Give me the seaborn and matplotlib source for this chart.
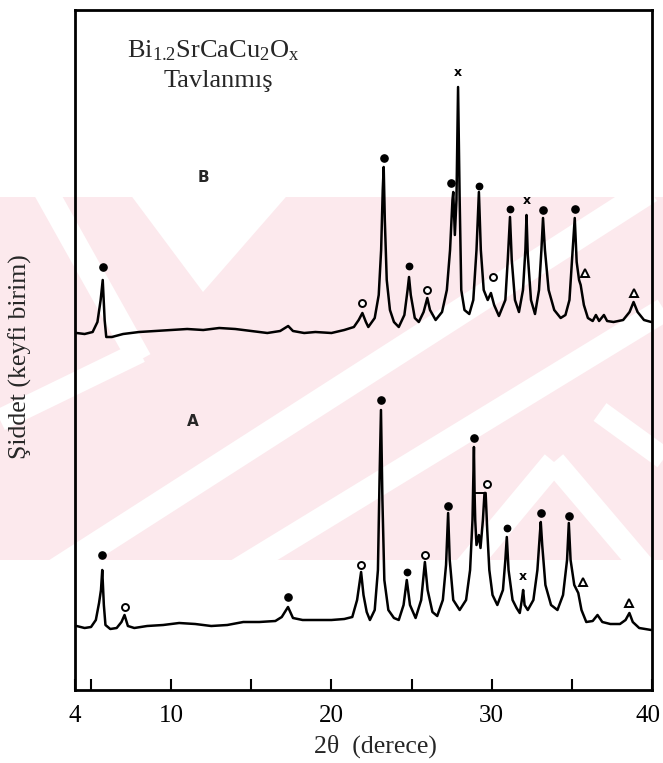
import matplotlib
matplotlib.use("Agg")
import matplotlib.pyplot as plt
import matplotlib.transforms as mtransforms
from matplotlib.patches import Polygon, Rectangle
from matplotlib.lines import Line2D
import pandas as pd
import seaborn as sns

# ---------------------------------------------------------------- data
# Diffraction traces as (2theta [deg], intensity [arb. units]) vertices
trace_B = [
    (4.1, 357), (4.6, 356), (5.1, 358), (5.4, 368), (5.6, 390), (5.73, 410),
    (5.85, 370), (5.95, 353), (6.3, 353), (7.0, 356), (8.0, 358), (9.0, 359),
    (10.0, 360), (11.0, 361), (12.0, 360), (13.0, 362), (14.0, 361), (15.0, 359),
    (16.0, 357), (16.8, 359), (17.3, 364), (17.6, 359), (18.3, 357), (19.0, 358),
    (20.0, 357), (20.8, 360), (21.4, 363), (21.7, 370), (21.93, 377), (22.15, 368),
    (22.3, 363), (22.7, 372), (22.95, 395), (23.1, 440), (23.2, 500), (23.26, 523),
    (23.33, 470), (23.45, 410), (23.65, 380), (23.9, 368), (24.2, 363), (24.55, 375),
    (24.75, 400), (24.84, 413), (24.95, 395), (25.2, 372), (25.45, 368), (25.75, 378),
    (25.98, 392), (26.15, 380), (26.5, 370), (26.9, 378), (27.2, 400), (27.4, 440),
    (27.55, 490), (27.6, 498), (27.7, 455), (27.8, 490), (27.9, 603), (28.0, 490),
    (28.1, 400), (28.3, 380), (28.6, 376), (28.85, 390), (29.05, 440), (29.2, 498),
    (29.32, 440), (29.5, 400), (29.75, 390), (29.95, 397), (30.15, 385), (30.45, 374),
    (30.85, 390), (31.0, 430), (31.14, 473), (31.25, 430), (31.45, 390), (31.7, 378),
    (31.95, 400), (32.1, 440), (32.17, 475), (32.25, 435), (32.45, 390), (32.7, 376),
    (32.95, 400), (33.1, 440), (33.2, 472), (33.32, 440), (33.55, 400), (33.9, 380),
    (34.3, 372), (34.6, 375), (34.85, 390), (35.05, 440), (35.18, 472), (35.3, 428),
    (35.45, 410), (35.55, 405), (35.75, 385), (36.0, 372), (36.3, 369), (36.5, 375),
    (36.7, 369), (37.0, 375), (37.2, 369), (37.6, 368), (38.2, 370), (38.6, 378),
    (38.85, 388), (39.1, 378), (39.5, 370), (39.95, 368),
]

trace_A = [
    (4.1, 64), (4.6, 62), (5.0, 63), (5.3, 70), (5.5, 87), (5.62, 100), (5.7, 120),
    (5.8, 85), (5.9, 65), (6.2, 61), (6.6, 62), (6.9, 68), (7.09, 75), (7.3, 64),
    (7.7, 62), (8.5, 64), (9.5, 65), (10.5, 67), (11.5, 66), (12.5, 64), (13.5, 65),
    (14.5, 68), (15.5, 68), (16.5, 69), (16.9, 73), (17.29, 83), (17.6, 72),
    (18.2, 70), (19.0, 70), (20.0, 70), (20.8, 71), (21.3, 73), (21.6, 90),
    (21.85, 118), (22.0, 95), (22.2, 78), (22.4, 70), (22.7, 80), (22.9, 120),
    (23.0, 210), (23.09, 280), (23.18, 190), (23.3, 110), (23.55, 80), (23.9, 72),
    (24.2, 70), (24.5, 85), (24.7, 110), (24.9, 85), (25.25, 72), (25.6, 90),
    (25.83, 128), (26.0, 100), (26.3, 78), (26.6, 74), (26.95, 90), (27.15, 125),
    (27.28, 177), (27.38, 130), (27.6, 90), (28.0, 80), (28.4, 90), (28.65, 120),
    (28.8, 170), (28.89, 243), (28.93, 197), (28.97, 170), (29.05, 145), (29.2, 155),
    (29.3, 142), (29.45, 170), (29.55, 197), (29.62, 197), (29.72, 160), (29.85, 120),
    (30.05, 95), (30.35, 85), (30.7, 100), (30.85, 130), (30.94, 153), (31.05, 120),
    (31.3, 90), (31.55, 82), (31.75, 77), (31.88, 90), (31.96, 100), (32.05, 85),
    (32.25, 80), (32.6, 90), (32.85, 120), (33.0, 155), (33.06, 168), (33.15, 145),
    (33.35, 105), (33.7, 85), (34.1, 80), (34.45, 95), (34.7, 130), (34.81, 167),
    (34.92, 130), (35.15, 105), (35.4, 97), (35.6, 80), (35.9, 68), (36.3, 69),
    (36.6, 75), (36.9, 68), (37.4, 66), (38.0, 66), (38.35, 70), (38.59, 77),
    (38.8, 68), (39.2, 62), (39.95, 60),
]
# flat top joining the 28.9 and 29.6 reflections of pattern A
bracket_A = [(28.93, 197), (29.55, 197)]

# Phase markers: (2theta, height, symbol)
marks_B = [
    (5.73, 423, "dot"), (21.93, 387, "open"), (23.26, 532, "dot"), (24.84, 424, "star"),
    (25.98, 400, "open"), (27.45, 507, "dot"), (27.9, 617, "x"), (29.2, 504, "star"),
    (30.05, 413, "open"), (31.14, 481, "star"), (32.17, 490, "x"), (33.2, 480, "dot"),
    (35.18, 481, "dot"), (35.8, 417, "tri"), (38.9, 397, "tri"),
]
marks_A = [
    (5.7, 135, "dot"), (7.09, 83, "open"), (17.29, 93, "dot"), (21.85, 125, "open"),
    (23.09, 290, "dot"), (24.7, 118, "star"), (25.83, 135, "open"), (27.28, 184, "dot"),
    (28.89, 252, "dot"), (29.71, 206, "open"), (30.94, 162, "star"), (31.96, 113, "x"),
    (33.06, 177, "dot"), (34.81, 174, "dot"), (35.7, 108, "tri"), (38.59, 87, "tri"),
]

x_ticks = [4, 10, 20, 30, 40]
x_minor = [5, 15, 25, 35]
title_lines = [r"Bi$_{\mathrm{1.2}}$SrCaCu$_{\mathrm{2}}$O$_{\mathrm{x}}$", "Tavlanmış"]
x_label = "2θ  (derece)"
y_label = "Şiddet (keyfi birim)"

# ---------------------------------------------------------------- style
sns.set_theme(style="white")
plt.rcParams["font.family"] = ["Liberation Serif", "DejaVu Serif"]
plt.rcParams["mathtext.fontset"] = "custom"
plt.rcParams["mathtext.rm"] = "Liberation Serif"
plt.rcParams["mathtext.it"] = "Liberation Serif:italic"

W, H = 663, 763
fig = plt.figure(figsize=(W / 100, H / 100), dpi=100)
fig.patch.set_facecolor("white")


def fp(x, y):
    """pixel position (origin top-left) -> figure fraction"""
    return x / W, 1 - y / H


# ---------------------------------------------------------------- background band
pink = "#fce9ed"
band_top, band_bot = 197, 560
band = Rectangle(fp(0, band_bot), 1, (band_bot - band_top) / H,
                 transform=fig.transFigure, facecolor=pink, edgecolor="none", zorder=0)
fig.add_artist(band)
clip = Rectangle(fp(0, band_bot), 1, (band_bot - band_top) / H,
                 transform=fig.transFigure, facecolor="none", edgecolor="none")
fig.add_artist(clip)
clip.set_visible(False)

white_polys = [
    [(127, 190), (292, 190), (203, 292)],
]
for poly in white_polys:
    p = Polygon([fp(*q) for q in poly], closed=True, transform=fig.transFigure,
                facecolor="white", edgecolor="none", zorder=0.5)
    fig.add_artist(p)
    p.set_clip_path(clip)

white_stripes = [
    ((45, 190), (140, 360), 24),
    ((0, 420), (140, 352), 22),
    ((50, 575), (650, 190), 26),
    ((230, 575), (680, 300), 24),
    ((460, 575), (554, 462), 24),
    ((554, 462), (650, 575), 24),
    ((600, 412), (680, 470), 22),
]
for (x0, y0), (x1, y1), w in white_stripes:
    a, b = fp(x0, y0), fp(x1, y1)
    ln = Line2D([a[0], b[0]], [a[1], b[1]], transform=fig.transFigure,
                color="white", linewidth=w * 0.72, solid_capstyle="butt", zorder=0.5)
    fig.add_artist(ln)
    ln.set_clip_path(clip)

# ---------------------------------------------------------------- axes
ax = fig.add_axes([75 / W, 1 - 690 / H, (652 - 75) / W, (690 - 10) / H])
ax.set_zorder(2)
ax.set_facecolor("none")

dfA = pd.DataFrame(trace_A, columns=["two_theta", "intensity"])
dfB = pd.DataFrame(trace_B, columns=["two_theta", "intensity"])
line_kw = dict(color="black", linewidth=1.8, sort=False, estimator=None, ax=ax)
sns.lineplot(data=dfA, x="two_theta", y="intensity", **line_kw)
sns.lineplot(data=dfB, x="two_theta", y="intensity", **line_kw)
brk = pd.DataFrame(bracket_A, columns=["two_theta", "intensity"])
sns.lineplot(data=brk, x="two_theta", y="intensity", color="black",
             linewidth=1.4, sort=False, estimator=None, ax=ax)

style = {
    "dot": dict(marker="o", ms=5.2, mfc="black", mec="black"),
    "star": dict(marker="o", ms=4.6, mfc="black", mec="black"),
    "open": dict(marker="o", ms=5.0, mfc="white", mec="black", mew=1.4),
    "tri": dict(marker="^", ms=6.0, mfc="white", mec="black", mew=1.4),
}
for xv, yv, kind in marks_A + marks_B:
    if kind == "x":
        ax.text(xv, yv, "x", ha="center", va="center", fontsize=9,
                fontweight="bold", family="DejaVu Sans", color="black")
    else:
        ax.plot([xv], [yv], linestyle="none", **style[kind])

ax.set_xlim(4, 40)
ax.set_ylim(0, 680)
ax.set_xticks(x_ticks)
ax.set_xticklabels([str(t) for t in x_ticks])
ax.set_xticks(x_minor, minor=True)
ax.set_yticks([])
ax.tick_params(axis="x", which="both", direction="in", length=8, width=1.5,
               pad=11, labelsize=18, colors="black", bottom=True, top=False)
# keep the last label inside the canvas
last = ax.get_xticklabels()[-1]
last.set_transform(last.get_transform() +
                   mtransforms.ScaledTranslation(-4 / 100, 0, fig.dpi_scale_trans))
ax.set_xlabel("")
ax.set_ylabel("")
for s in ax.spines.values():
    s.set_visible(True)
    s.set_color("black")
    s.set_linewidth(2.0)

# ---------------------------------------------------------------- text
fig.text(*fp(213, 57), title_lines[0], ha="center", va="baseline", fontsize=19)
fig.text(*fp(218, 87), title_lines[1], ha="center", va="baseline", fontsize=19)
fig.text(*fp(203, 177), "B", ha="center", va="center", fontsize=11,
         fontweight="bold", family="DejaVu Sans")
fig.text(*fp(193, 422), "A", ha="center", va="center", fontsize=11,
         fontweight="bold", family="DejaVu Sans")
fig.text(*fp(375, 746), x_label, ha="center", va="center", fontsize=18.5)
fig.text(*fp(20, 357), y_label, ha="center", va="center", rotation=90, fontsize=18.5)

fig.savefig("out.png", dpi=100)
